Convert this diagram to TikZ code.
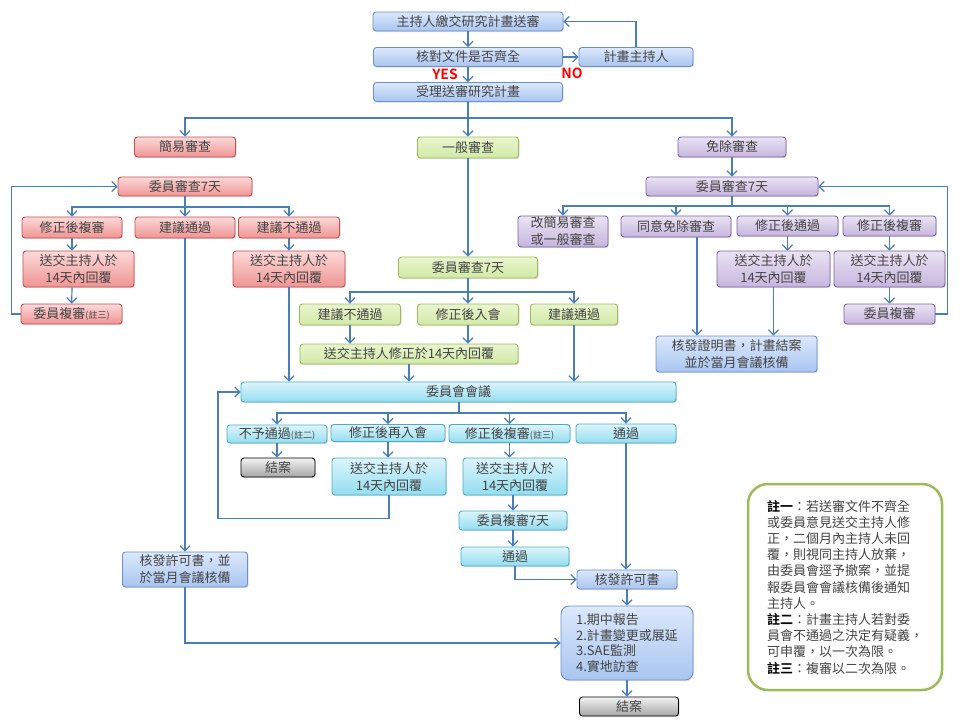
\documentclass[tikz,border=0pt]{standalone}
\usepackage{fontspec}
\setmainfont{Noto Sans CJK TC}[BoldFont={Noto Sans CJK TC Bold}]
\usetikzlibrary{arrows.meta}
\usetikzlibrary{shadows}

\definecolor{linecol}{HTML}{4A7EBB}
\definecolor{txtcol}{HTML}{444444}
\definecolor{bluetop}{HTML}{DCE8FB}
\definecolor{bluebot}{HTML}{A9C5F0}
\definecolor{blueline}{HTML}{6A90CC}
\definecolor{redtop}{HTML}{FCD9D9}
\definecolor{redbot}{HTML}{F09494}
\definecolor{redline}{HTML}{C0504D}
\definecolor{greentop}{HTML}{E9F5CF}
\definecolor{greenbot}{HTML}{D2E9A6}
\definecolor{greenline}{HTML}{9BBB59}
\definecolor{purptop}{HTML}{EAE3F3}
\definecolor{purpbot}{HTML}{C6B5DE}
\definecolor{purpline}{HTML}{8064A2}
\definecolor{cyantop}{HTML}{DDF5FC}
\definecolor{cyanbot}{HTML}{93DDF0}
\definecolor{cyanline}{HTML}{4BACC6}
\definecolor{graytop}{HTML}{F2F2F2}
\definecolor{graybot}{HTML}{A6A6A6}

\tikzset{
    box/.style={draw, rounded corners=3pt, line width=0.9pt, inner sep=0pt,
        minimum height=19pt, text=txtcol, align=center,
        font=\fontsize{13}{17}\selectfont,
        drop shadow={opacity=0.25, shadow xshift=1pt, shadow yshift=-1.2pt}},
    bluebox/.style={box, draw=blueline, top color=bluetop, bottom color=bluebot},
    redbox/.style={box, draw=redline, top color=redtop, bottom color=redbot},
    greenbox/.style={box, draw=greenline, top color=greentop, bottom color=greenbot},
    purpbox/.style={box, draw=purpline, top color=purptop, bottom color=purpbot},
    cyanbox/.style={box, draw=cyanline, top color=cyantop, bottom color=cyanbot},
    graybox/.style={box, draw=black, top color=graytop, bottom color=graybot},
    yesno/.style={text=red, font=\fontsize{14}{14}\bfseries\selectfont, inner sep=0pt},
    con/.style={draw=linecol, line width=1.2pt},
    arr/.style={con, -{Straight Barb[length=5pt,width=10pt]}},
}
\newcommand{\smallnote}[1]{{\fontsize{9}{9}\selectfont(#1)}}

\begin{document}
\begin{tikzpicture}[x=1pt,y=-1pt]
        \useasboundingbox (0,0) rectangle (960,720);
        % top
        \node[bluebox, minimum width=190pt] (sub) at (468,21.5) {主持人繳交研究計畫送審};
        \node[bluebox, minimum width=189pt] (chk) at (468,57) {核對文件是否齊全};
        \node[bluebox, minimum width=114pt] (pi) at (636,57) {計畫主持人};
        \node[yesno] (yes) at (445,74) {YES};
        \node[yesno] (no) at (572,73) {NO};
        \node[bluebox, minimum width=189pt] (acc) at (468,92) {受理送審研究計畫};
        \coordinate (bus0) at (468,118);
        \draw[arr] (sub) -- (chk);
        \draw[arr] (chk) -- (pi);
        \draw[arr] (pi.north) |- (sub.east);
        \draw[arr] (chk) -- (acc);

        % red branch
        \node[redbox, minimum width=101pt, minimum height=20pt] (easy) at (185,147) {簡易審查};
        \node[redbox, minimum width=134pt] (erev) at (185,186.5) {委員審查7天};
        \node[redbox, minimum width=100pt, minimum height=21pt] (efix) at (72,227.5) {修正後複審};
        \node[redbox, minimum width=100pt, minimum height=21pt] (epass) at (185,227.5) {建議通過};
        \node[redbox, minimum width=101pt, minimum height=21pt] (efail) at (289,227.5) {建議不通過};
        \node[redbox, minimum width=111pt, minimum height=36pt] (esend1) at (78.5,269) {送交主持人於\\14天內回覆};
        \node[redbox, minimum width=112pt, minimum height=36pt] (esend2) at (289,269) {送交主持人於\\14天內回覆};
        \node[redbox, minimum width=101pt, minimum height=20pt] (erev2) at (71.5,314) {委員複審\smallnote{註三}};
        \node[bluebox, minimum width=125pt, minimum height=35pt] (permA) at (185,569.5) {核發許可書，並\\於當月會議核備};
        \coordinate (rbus) at (185,207);
        \draw[con] (erev) -- (rbus);
        \draw[arr] (rbus) -| (efix);
        \draw[arr] (rbus) -| (efail);
        \draw[arr] (erev) -- (epass);
        \draw[arr] (efix) -- (efix |- esend1.north);
        \draw[arr] (efix |- esend1.south) -- (erev2);
        \draw[arr] (erev2.west) -- ++(-9,0) |- (erev.west);
        \draw[arr] (efail) -- (esend2);
        \draw[arr] (epass) -- (permA);

        % green branch
        \node[greenbox, minimum width=101pt, minimum height=21pt] (gen) at (468,147.5) {一般審查};
        \node[greenbox, minimum width=139pt, minimum height=21pt] (grev) at (468,267.5) {委員審查7天};
        \node[greenbox, minimum width=101pt, minimum height=21pt] (gfail) at (350,314.5) {建議不通過};
        \node[greenbox, minimum width=101pt, minimum height=21pt] (gfix) at (468,314.5) {修正後入會};
        \node[greenbox, minimum width=87pt, minimum height=21pt] (gpass) at (574,314.5) {建議通過};
        \node[greenbox, minimum width=218pt, minimum height=20pt] (gsend) at (409,354) {送交主持人修正於14天內回覆};
        \coordinate (gbus) at (468,292);
        \draw[arr] (acc) -- (gen);
        \draw[arr] (gen) -- (grev);
        \draw[con] (grev) -- (gbus);
        \draw[arr] (gbus) -| (gfail);
        \draw[arr] (gbus) -| (gpass);
        \draw[arr] (grev) -- (gfix);
        \draw[arr] (gfail) -- (gfail |- gsend.north);
        \draw[arr] (gfix) -- (gfix |- gsend.north);

        % purple branch
        \node[purpbox, minimum width=108pt, minimum height=20pt] (exm) at (732,147) {免除審查};
        \node[purpbox, minimum width=172pt] (xrev) at (732,186.5) {委員審查7天};
        \node[purpbox, minimum width=90pt, minimum height=31pt] (xchg) at (563,231.5) {改簡易審查\\或一般審查};
        \node[purpbox, minimum width=110pt, minimum height=21pt] (xok) at (676,226.5) {同意免除審查};
        \node[purpbox, minimum width=101pt, minimum height=20pt] (xfix) at (787.5,226) {修正後通過};
        \node[purpbox, minimum width=93pt, minimum height=20pt] (xrev1) at (889.5,226) {修正後複審};
        \node[purpbox, minimum width=113pt, minimum height=36pt] (xsend1) at (773.5,269) {送交主持人於\\14天內回覆};
        \node[purpbox, minimum width=111pt, minimum height=36pt] (xsend2) at (889.5,269) {送交主持人於\\14天內回覆};
        \node[purpbox, minimum width=91pt, minimum height=20pt] (xrev2) at (889.5,314) {委員複審};
        \node[bluebox, minimum width=161pt, minimum height=36pt] (cert) at (736.5,354) {核發證明書，計畫結案\\並於當月會議核備};
        \coordinate (xbus) at (732,206);
        \draw[arr] (bus0) -| (easy);
        \draw[arr] (bus0) -| (exm);
        \draw[arr] (exm) -- (xrev);
        \draw[con] (xrev) -- (xbus);
        \draw[arr] (xbus) -| (xchg);
        \draw[arr] (xbus) -| (xok);
        \draw[arr] (xbus) -| (xfix);
        \draw[arr] (xbus) -| (xrev1);
        \draw[arr] (xfix) -- (xfix |- xsend1.north);
        \draw[arr] (xrev1) -- (xsend2);
        \draw[arr] (xsend2) -- (xrev2);
        \draw[arr] (xrev2.east) -- ++(12,0) |- (xrev.east);
        \draw[arr] ([xshift=21pt]xok.south) -- ([xshift=21pt]xok.south |- cert.north);
        \draw[arr] (xsend1) -- (xsend1 |- cert.north);

        % meeting
        \node[cyanbox, minimum width=435pt, minimum height=20pt] (meet) at (458.5,392) {委員會會議};
        \node[cyanbox, minimum width=100pt, minimum height=18pt] (mfail) at (277,434) {不予通過\smallnote{註二}};
        \node[cyanbox, minimum width=114pt, minimum height=17pt] (mfix) at (388,433) {修正後再入會};
        \node[cyanbox, minimum width=121pt, minimum height=18pt] (mrev) at (509.5,433.5) {修正後複審\smallnote{註三}};
        \node[cyanbox, minimum width=100pt] (mpass) at (626,433.5) {通過};
        \node[graybox, minimum width=74pt] (close1) at (278,467.5) {結案};
        \node[cyanbox, minimum width=114pt, minimum height=37pt] (msend1) at (389,476.5) {送交主持人於\\14天內回覆};
        \node[cyanbox, minimum width=104pt, minimum height=37pt] (msend2) at (515,476.5) {送交主持人於\\14天內回覆};
        \node[cyanbox, minimum width=108pt] (mrev2) at (513,520.5) {委員複審7天};
        \node[cyanbox, minimum width=108pt] (mpass2) at (515,556.5) {通過};
        \coordinate (mbus) at (459,413);
        \draw[arr] (esend2) -- (esend2 |- meet.north);
        \draw[arr] (gsend) -- (gsend |- meet.north);
        \draw[arr] (gpass) -- (gpass |- meet.north);
        \draw[con] (meet.south -| mbus) -- (mbus);
        \draw[arr] (mbus) -| (mfail);
        \draw[arr] (mbus) -| (mfix);
        \draw[arr] (mbus) -| (mrev);
        \draw[arr] (mbus) -| (mpass);
        \draw[arr] (mfail) -- (mfail |- close1.north);
        \draw[arr] (mfix) -- (mfix |- msend1.north);
        \draw[arr] (mrev) -- (mrev |- msend2.north);
        \draw[arr] (msend1.south) |- ++(-171,23) |- (meet.west);
        \draw[arr] (mrev2 |- msend2.south) -- (mrev2);
        \draw[arr] (mrev2) -- (mrev2 |- mpass2.north);

        % bottom
        \node[bluebox, minimum width=100pt] (perm) at (627,579.5) {核發許可書};
        \node[bluebox, rounded corners=8pt, minimum width=132pt, minimum height=74pt,
            align=left, font=\fontsize{13}{15.7}\selectfont] (task) at (627,643)
            {1.期中報告\\2.計畫變更或展延\\3.SAE監測\\4.實地訪查};
        \node[graybox, minimum width=99pt] (close2) at (629,706.5) {結案};
        \draw[arr] (mpass) -- (mpass |- perm.north);
        \draw[arr] (mpass2.south) |- (perm.west);
        \draw[arr] (perm) -- (task);
        \draw[arr] (permA.south) |- (task.west);
        \draw[arr] (task) -- (task |- close2.north);

        % notes
        \node[draw=greenline, line width=2.5pt, rounded corners=20pt, fill=white,
            minimum width=194pt, minimum height=206pt, align=left, text=txtcol,
            font=\fontsize{13}{16.2}\selectfont] (notes) at (845,587)
            {{\color{black}\bfseries 註一}：若送審文件不齊全\\或委員意見送交主持人修\\正，二個月內主持人未回\\覆，則視同主持人放棄，\\由委員會逕予撤案，並提\\報委員會會議核備後通知\\主持人。\\{\color{black}\bfseries 註二}：計畫主持人若對委\\員會不通過之決定有疑義，\\可申覆，以一次為限。\\{\color{black}\bfseries 註三}：複審以二次為限。};
    \end{tikzpicture}
\end{document}
